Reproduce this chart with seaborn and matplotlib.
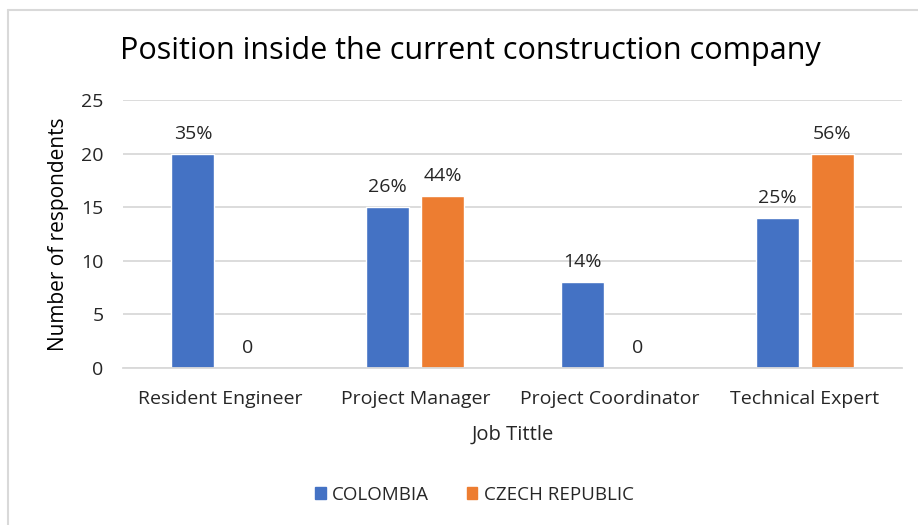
import pandas as pd
import matplotlib.pyplot as plt
import matplotlib.patches as mpatches
import seaborn as sns

jobs = ['Resident Engineer', 'Project Manager', 'Project Coordinator', 'Technical Expert']
colombia = [20, 15, 8, 14]
czech = [0, 16, 0, 20]
colombia_pct = ['35%', '26%', '14%', '25%']
czech_pct = ['0', '44%', '0', '56%']
countries = ['COLOMBIA', 'CZECH REPUBLIC']
colors = ['#4472C4', '#ED7D31']

df = pd.DataFrame({
    'Job': jobs * 2,
    'Country': [countries[0]] * 4 + [countries[1]] * 4,
    'Count': colombia + czech,
})

sns.set_style('white')
plt.rcParams['font.family'] = ['Open Sans', 'DejaVu Sans']

fig = plt.figure(figsize=(9.18, 5.25), dpi=100)
ax = fig.add_axes([0.134, 0.299, 0.849, 0.5105])

sns.barplot(data=df, x='Job', y='Count', hue='Country', palette=colors,
            width=0.564, gap=0.218, ax=ax, legend=False, saturation=1)

for cont, labels in zip(ax.containers, [colombia_pct, czech_pct]):
    ax.bar_label(cont, labels=labels, padding=8, fontsize=14, color='#262626')

ax.set_ylim(0, 25)
ax.set_yticks([0, 5, 10, 15, 20, 25])
ax.set_xlim(-0.5, 3.5)
ax.grid(axis='y', color='#D9D9D9', linewidth=1.3)
ax.set_axisbelow(True)
for s in ['top', 'right', 'left']:
    ax.spines[s].set_visible(False)
ax.spines['bottom'].set_color('#D9D9D9')
ax.spines['bottom'].set_linewidth(1.3)
ax.tick_params(axis='x', length=0, labelsize=14, pad=16)
ax.tick_params(axis='y', length=0, labelsize=14, pad=14)
for t in ax.get_xticklabels() + ax.get_yticklabels():
    t.set_color('#262626')

ax.set_xlabel('Job Tittle', fontsize=14.5, color='#262626', labelpad=12)
ax.set_ylabel('Number of respondents', fontsize=15, color='#000000', labelpad=9)

fig.text(0.512, 0.903, 'Position inside the current construction company',
         ha='center', va='center', fontsize=22, color='#000000')

handles = [mpatches.Patch(color=c, label=l) for c, l in zip(colors, countries)]
fig.legend(handles=handles, loc='center', bbox_to_anchor=(0.517, 0.058), ncol=2,
           frameon=False, fontsize=13.5, handlelength=0.55, handleheight=0.55,
           columnspacing=2.0, handletextpad=0.35, labelcolor='#262626')

# chart border (only top and left edges are inside the picture)
fig.add_artist(plt.Line2D([8 / 918, 1], [1 - 10 / 525] * 2, color='#D9D9D9', lw=1.5))
fig.add_artist(plt.Line2D([8 / 918] * 2, [0, 1 - 10 / 525], color='#D9D9D9', lw=1.5))

fig.savefig('out.png', dpi=100, facecolor='white')
